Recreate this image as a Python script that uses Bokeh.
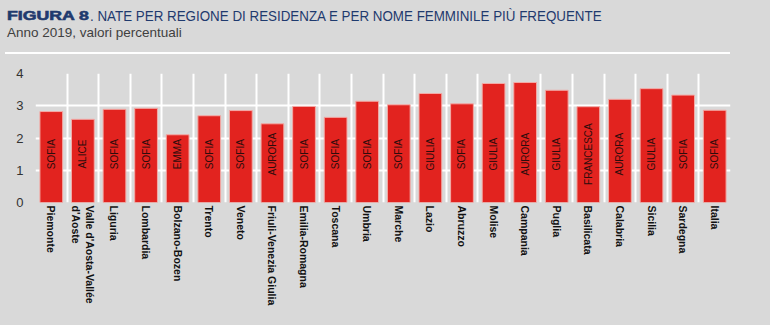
import math
from bokeh.plotting import figure
from bokeh.layouts import column
from bokeh.models import ColumnDataSource, FixedTicker, Range1d, Div
from bokeh.core.properties import value
from bokeh.embed import file_html
from bokeh.resources import INLINE

regions = ["Piemonte", "Valle d'Aosta-Vallée\nd'Aoste", "Liguria", "Lombardia", "Bolzano-Bozen",
           "Trento", "Veneto", "Friuli-Venezia Giulia", "Emilia-Romagna", "Toscana", "Umbria",
           "Marche", "Lazio", "Abruzzo", "Molise", "Campania", "Puglia", "Basilicata",
           "Calabria", "Sicilia", "Sardegna", "Italia"]
values = [2.82, 2.58, 2.89, 2.92, 2.10, 2.69, 2.85, 2.44, 2.98, 2.64, 3.14,
          3.03, 3.38, 3.06, 3.69, 3.72, 3.48, 2.97, 3.20, 3.53, 3.33, 2.86]
names = ["SOFIA", "ALICE", "SOFIA", "SOFIA", "EMMA", "SOFIA", "SOFIA", "AURORA", "SOFIA",
         "SOFIA", "SOFIA", "SOFIA", "GIULIA", "SOFIA", "GIULIA", "AURORA", "GIULIA",
         "FRANCESCA", "AURORA", "GIULIA", "SOFIA", "SOFIA"]
y_ticks = [0, 1, 2, 3, 4]

title_bold = "FIGURA 8"
title_rest = ". NATE PER REGIONE DI RESIDENZA E PER NOME FEMMINILE PIÙ FREQUENTE"
subtitle = "Anno 2019, valori percentuali"

BG = "#d9d9d9"
n = len(regions)
xs = [i + 0.5 for i in range(n)]
src = ColumnDataSource(dict(x=xs, v=values, name=names, ly=[1.5] * n))

HEAD_H = 60
header = Div(width=770, height=HEAD_H, margin=0, styles={"background-color": BG}, text=f"""
<div style="position:relative;width:770px;height:{HEAD_H}px;background:{BG};overflow:hidden;">
  <div style="position:absolute;left:7px;top:8px;line-height:16px;white-space:nowrap;color:#1f3a6e;
       font-family:'Liberation Sans';font-weight:bold;font-size:13px;-webkit-text-stroke:0.6px #1f3a6e;
       transform:scaleX(1.36);transform-origin:left;">{title_bold}</div>
  <div style="position:absolute;left:90px;top:8px;line-height:16px;white-space:nowrap;color:#1f3a6e;
       font-family:'Liberation Sans';font-size:14px;transform:scaleX(0.955);transform-origin:left;">{title_rest}</div>
  <div style="position:absolute;left:7px;top:25px;line-height:16px;white-space:nowrap;color:#404040;
       font-family:'Liberation Sans';font-size:13.5px;">{subtitle}</div>
  <div style="position:absolute;left:5px;top:52px;width:725px;height:2px;background:#ffffff;"></div>
</div>""")

p = figure(width=770, height=325 - HEAD_H, output_backend="svg", toolbar_location=None,
           x_range=Range1d(0, n), y_range=Range1d(0, 4),
           min_border_left=35, min_border_right=40, min_border_top=73 - HEAD_H,
           min_border_bottom=123)
p.background_fill_color = BG
p.border_fill_color = BG
p.outline_line_color = None

p.vbar(x="x", top="v", width=0.72, bottom=0, source=src,
       fill_color="#e2231f", line_color="#f3aaa6", line_width=1)
p.text(x="x", y="ly", text="name", source=src, angle=math.pi / 2,
       text_align="center", text_baseline="middle", text_font=value("Liberation Sans"),
       text_font_size="10px", text_color="#2e0c0c")

p.xaxis.ticker = FixedTicker(ticks=xs)
p.xaxis.major_label_overrides = {x: r for x, r in zip(xs, regions)}
p.xaxis.major_label_orientation = "vertical"
p.xaxis.major_label_text_font = "Liberation Sans"
p.xaxis.major_label_text_font_style = "bold"
p.xaxis.major_label_text_font_size = "10.5px"
p.xaxis.major_label_text_color = "#111111"
p.xaxis.major_label_standoff = 3
p.xaxis.axis_line_color = None
p.xaxis.major_tick_line_color = None
p.xaxis.minor_tick_line_color = None
p.xaxis.major_tick_out = 0
p.xaxis.major_tick_in = 0

p.yaxis.ticker = FixedTicker(ticks=y_ticks)
p.yaxis.major_label_text_font = "Liberation Sans"
p.yaxis.major_label_text_font_size = "13px"
p.yaxis.major_label_text_color = "#333333"
p.yaxis.major_label_standoff = 6
p.yaxis.axis_line_color = None
p.yaxis.major_tick_line_color = None
p.yaxis.minor_tick_line_color = None

p.xgrid.ticker = FixedTicker(ticks=list(range(n + 1)))
p.ygrid.ticker = FixedTicker(ticks=y_ticks)
for g in (p.xgrid, p.ygrid):
    g.grid_line_color = "white"
    g.grid_line_width = 2

layout = column(header, p, spacing=0, margin=0, styles={"background-color": BG})
open("out.html", "w").write(file_html(layout, INLINE))
